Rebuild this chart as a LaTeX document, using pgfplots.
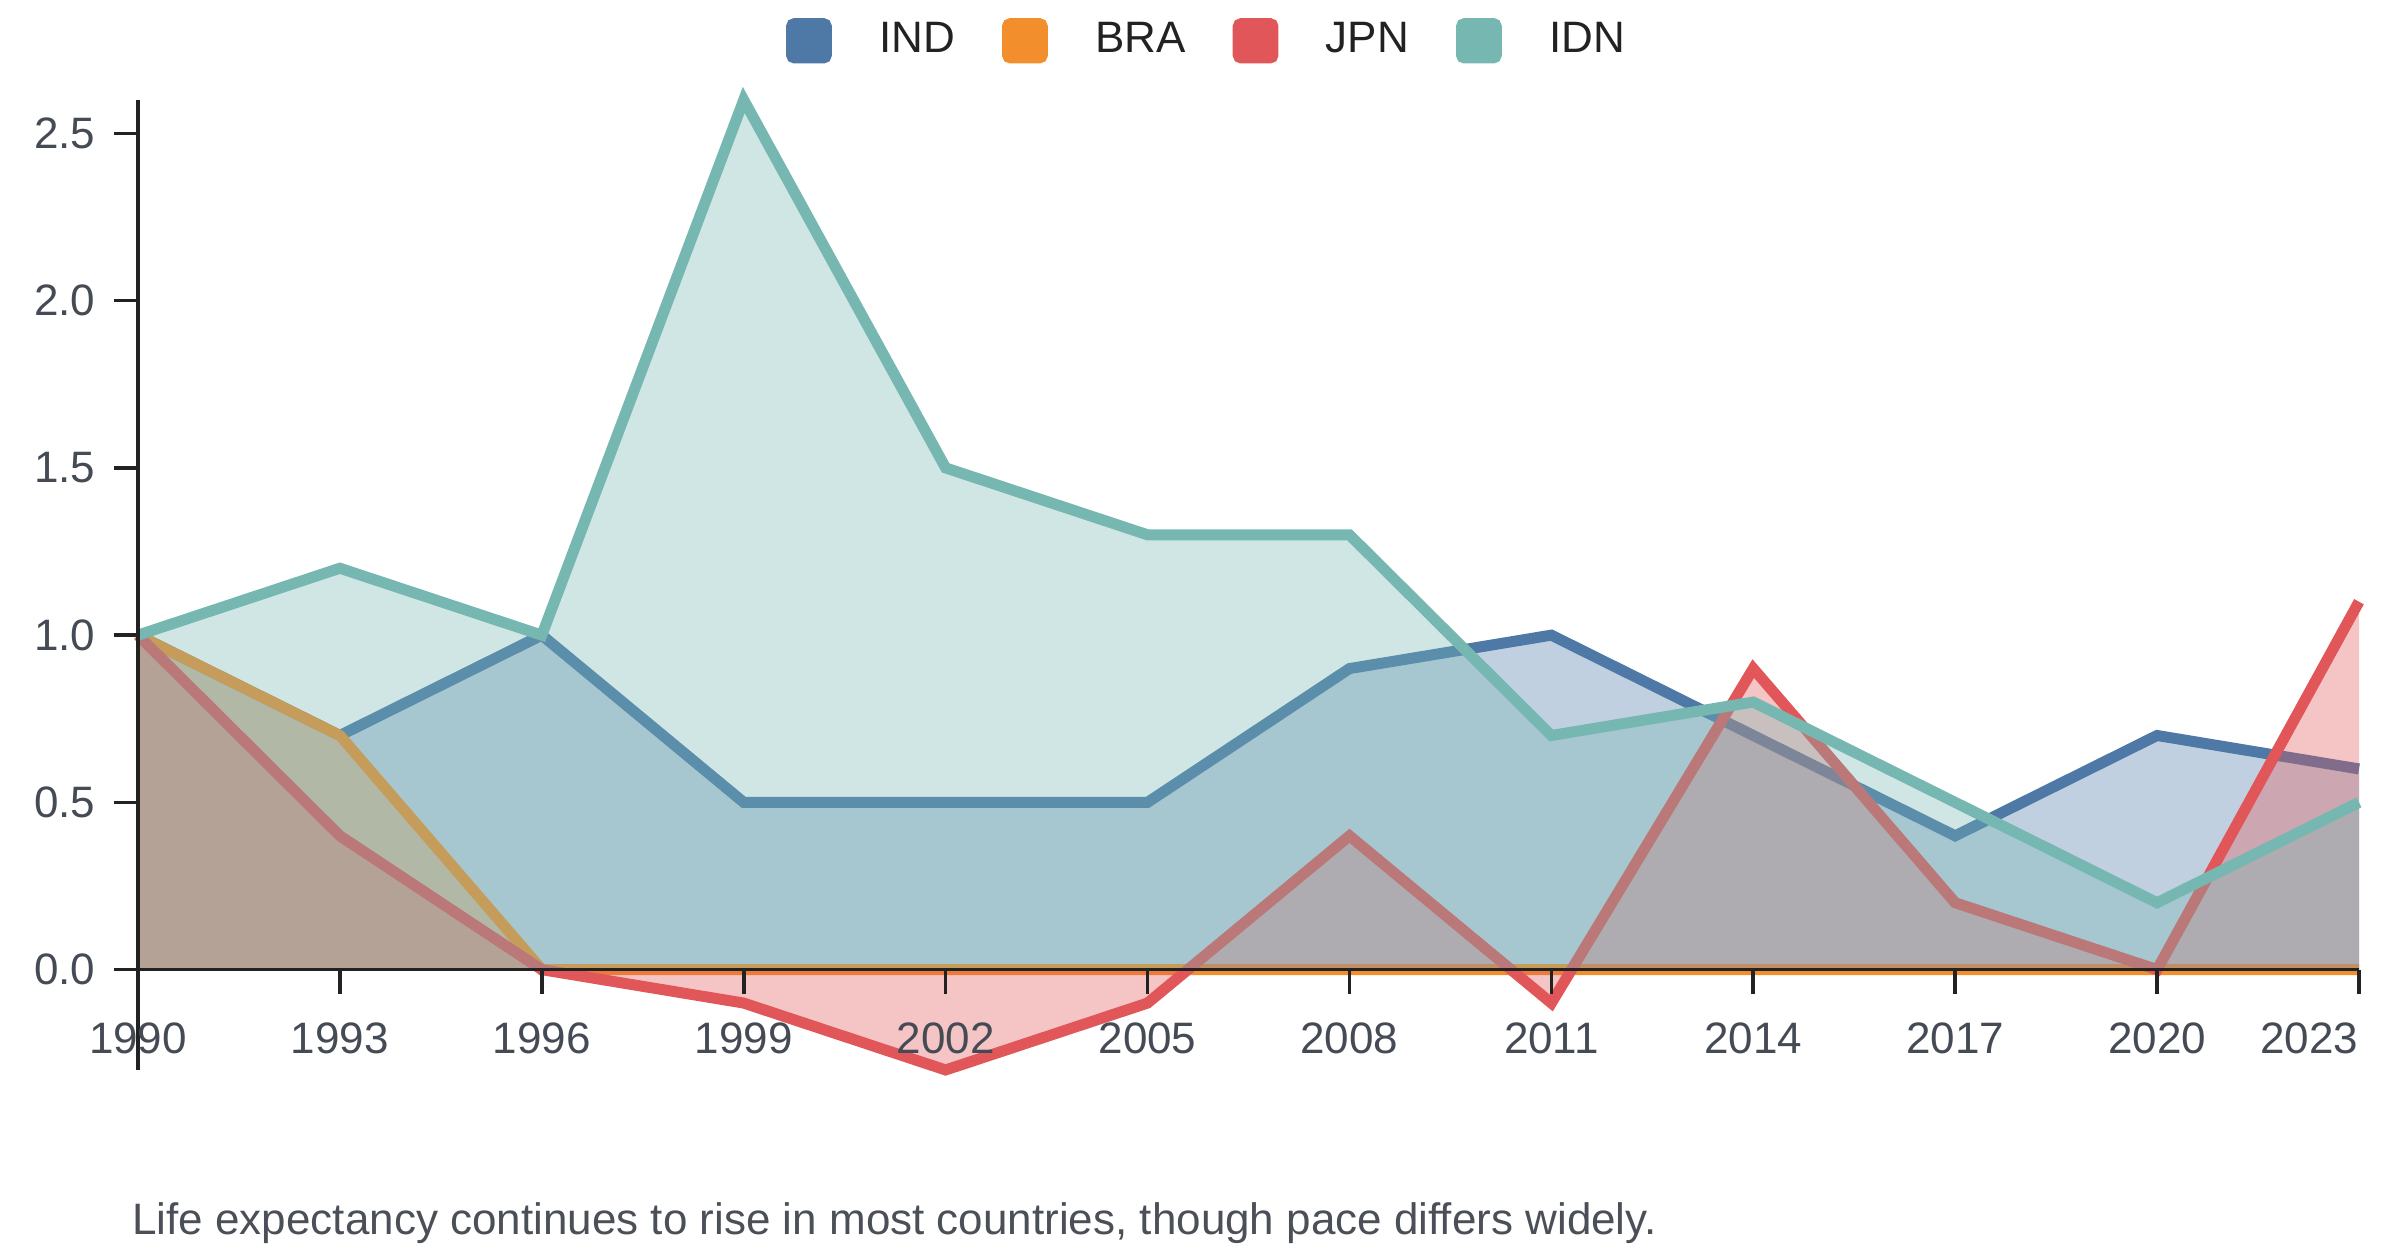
\documentclass[border=0pt]{standalone}
\usepackage{pgfplots}
\usepackage{pgfplotstable}
\pgfplotsset{compat=1.18}
\usepackage{fontspec}
\setmainfont{Liberation Sans}
\definecolor{cIND}{HTML}{4E79A7}
\definecolor{cBRA}{HTML}{F28E2B}
\definecolor{cJPN}{HTML}{E15759}
\definecolor{cIDN}{HTML}{76B7B2}
\definecolor{axc}{HTML}{222222}
\definecolor{tickc}{HTML}{454B55}
\definecolor{capc}{HTML}{4B5058}

\pgfplotstableread{
year IND BRA JPN IDN
1990 1.0 1.0 1.0 1.0
1993 0.7 0.7 0.4 1.2
1996 1.0 0.0 0.0 1.0
1999 0.5 0.0 -0.1 2.6
2002 0.5 0.0 -0.3 1.5
2005 0.5 0.0 -0.1 1.3
2008 0.9 0.0 0.4 1.3
2011 1.0 0.0 -0.1 0.7
2014 0.7 0.0 0.9 0.8
2017 0.4 0.0 0.2 0.5
2020 0.7 0.0 0.0 0.2
2023 0.6 0.0 1.1 0.5
}\data

\begin{document}
\begin{tikzpicture}
\begin{axis}[name=ax, at={(0,0)}, anchor=south west,
  scale only axis, width=555.25pt, height=242.5pt,
  xmin=1990, xmax=2023, ymin=-0.3, ymax=2.6,
  axis x line=middle, axis y line=left,
  axis line style={-, line width=0.9pt, color=axc},
  xtick={1990,1993,...,2020}, ytick={0,0.5,1,1.5,2,2.5},
  extra x ticks={2023},
  extra x tick style={xticklabel style={anchor=north east}},
  tick align=outside, major tick length=6pt,
  tick style={line width=0.9pt, color=axc},
  hide obscured x ticks=false, hide obscured y ticks=false,
  scaled x ticks=false, scaled y ticks=false,
  /pgf/number format/assume math mode=true,
  xticklabel style={/pgf/number format/1000 sep={}, font=\fontsize{11}{13}\selectfont, text=tickc, inner sep=0pt, anchor=north, yshift=-7.2pt},
  yticklabel style={/pgf/number format/fixed, /pgf/number format/fixed zerofill, /pgf/number format/precision=1, font=\fontsize{11}{13}\selectfont, text=tickc, inner sep=0pt, anchor=east, xshift=-4.5pt},
  clip=false, axis on top,
  legend columns=4,
  legend style={at={(0.4806,1.061)}, anchor=center, draw=none, fill=none,
    font=\fontsize{11}{13}\selectfont, text=axc, inner sep=0pt,
    nodes={inner sep=0pt},
    /tikz/every odd column/.append style={column sep=11.8pt},
    /tikz/every even column/.append style={column sep=11.8pt}},
  legend cell align=left,
]
\addplot[draw=none, fill=cIND, fill opacity=0.35, forget plot] table[x=year,y=IND]{\data} \closedcycle;
\addplot[cIND, line width=2.75pt, legend image code/.code={\fill[cIND, rounded corners=0.8pt] (0pt,-4.3pt) rectangle (8.7pt,4.3pt);}] table[x=year,y=IND]{\data};
\addlegendentry{IND}
\addplot[draw=none, fill=cBRA, fill opacity=0.35, forget plot] table[x=year,y=BRA]{\data} \closedcycle;
\addplot[cBRA, line width=2.75pt, legend image code/.code={\fill[cBRA, rounded corners=0.8pt] (0pt,-4.3pt) rectangle (8.7pt,4.3pt);}] table[x=year,y=BRA]{\data};
\addlegendentry{BRA}
\addplot[draw=none, fill=cJPN, fill opacity=0.35, forget plot] table[x=year,y=JPN]{\data} \closedcycle;
\addplot[cJPN, line width=2.75pt, legend image code/.code={\fill[cJPN, rounded corners=0.8pt] (0pt,-4.3pt) rectangle (8.7pt,4.3pt);}] table[x=year,y=JPN]{\data};
\addlegendentry{JPN}
\addplot[draw=none, fill=cIDN, fill opacity=0.35, forget plot] table[x=year,y=IDN]{\data} \closedcycle;
\addplot[cIDN, line width=2.75pt, legend image code/.code={\fill[cIDN, rounded corners=0.8pt] (0pt,-4.3pt) rectangle (8.7pt,4.3pt);}] table[x=year,y=IDN]{\data};
\addlegendentry{IDN}
\end{axis}
\node[anchor=base west, inner sep=0pt, text=capc, font=\fontsize{11}{13}\selectfont] at ([xshift=-1.6pt, yshift=-41.25pt]ax.south west) {Life expectancy continues to rise in most countries, though pace differs widely.};
\pgfresetboundingbox
\path[use as bounding box] ([shift={(-34.5pt,-46.5pt)}]ax.south west) rectangle ([shift={(10.25pt,25pt)}]ax.north east);
\end{tikzpicture}
\end{document}
